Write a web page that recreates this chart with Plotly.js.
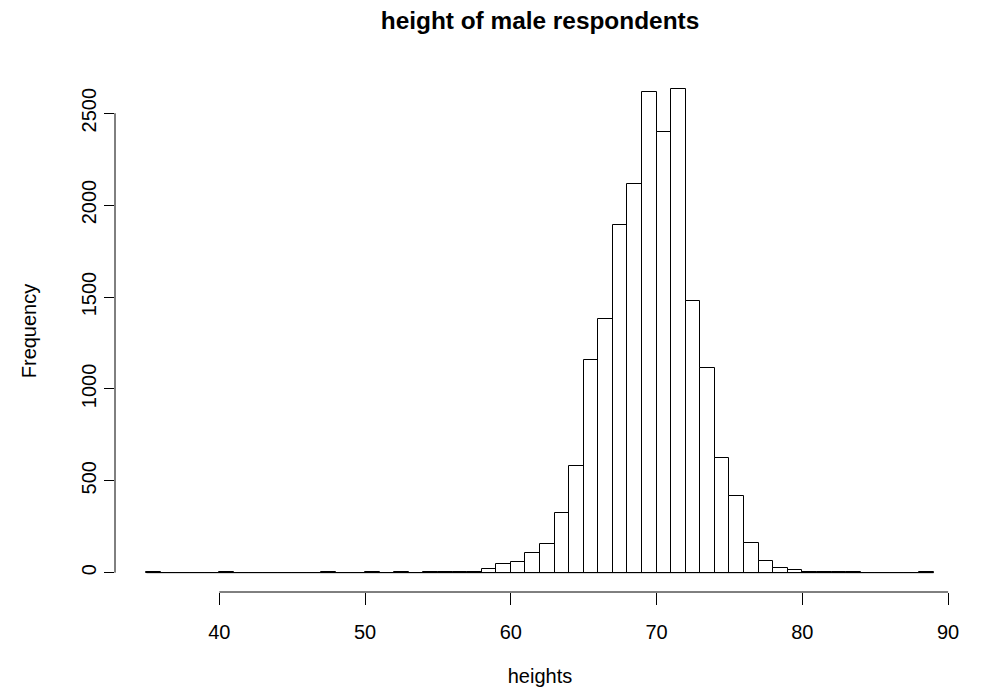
<!DOCTYPE html>
<html>
<head>
<meta charset="utf-8">
<script src="https://cdn.plot.ly/plotly-3.0.1.min.js"></script>
<style>
  html, body { margin: 0; padding: 0; background: #ffffff; }
  #chart { width: 981px; height: 695px; }
</style>
</head>
<body>
<div id="chart"></div>
<script>
// Bin left edges (width 1) and counts of male respondents' heights
const binStarts = [35,36,37,38,39,40,41,42,43,44,45,46,47,48,49,50,51,52,53,54,55,56,57,58,59,60,61,62,63,64,65,66,67,68,69,70,71,72,73,74,75,76,77,78,79,80,81,82,83,84,85,86,87,88];
const counts = [2,0,0,0,0,1,0,0,0,0,0,0,1,0,0,1,0,1,0,1,1,2,3,18,49,56,109,158,322,578,1156,1382,1893,2114,2613,2397,2630,1480,1116,625,418,163,65,24,13,5,3,2,1,0,0,0,0,1];
const binWidth = 1;
const xTicks = [40,50,60,70,80,90];
const yTicks = [0,500,1000,1500,2000,2500];

const centers = binStarts.map(b => b + binWidth / 2);
const firstEdge = binStarts[0];
const lastEdge = binStarts[binStarts.length - 1] + binWidth;

const font = "'Liberation Sans', Arial, Helvetica, sans-serif";

const bars = {
  type: 'bar',
  x: centers,
  y: counts,
  width: binWidth,
  marker: { color: '#ffffff', line: { color: '#000000', width: 1 } },
  hoverinfo: 'x+y',
  showlegend: false
};

// zero-height bins in R are drawn as a line along the baseline
const baseline = {
  type: 'scatter',
  mode: 'lines',
  x: [firstEdge, lastEdge],
  y: [0, 0],
  line: { color: '#000000', width: 1 },
  hoverinfo: 'skip',
  showlegend: false
};

const ymax = Math.max(...counts);
const xr = [firstEdge - 0.04 * (lastEdge - firstEdge), lastEdge + 0.04 * (lastEdge - firstEdge)];
const yr = [-0.04 * ymax, ymax * 1.04];

const layout = {
  width: 981,
  height: 695,
  paper_bgcolor: '#ffffff',
  plot_bgcolor: '#ffffff',
  margin: { l: 115, r: 16, t: 70, b: 103 },
  font: { family: font, size: 20, color: '#000000' },
  title: {
    text: '<b>height of male respondents</b>',
    font: { family: font, size: 24.4, color: '#000000' },
    x: 0.5, xref: 'paper', xanchor: 'center',
    y: 1 - 20 / 695, yref: 'container', yanchor: 'middle'
  },
  bargap: 0,
  xaxis: {
    range: xr,
    tickmode: 'array',
    tickvals: xTicks,
    ticktext: xTicks.map(String),
    ticks: 'outside',
    ticklen: 12,
    tickwidth: 1,
    tickcolor: '#000000',
    showline: false,
    showgrid: false,
    zeroline: false,
    ticklabelstandoff: 10,
    tickfont: { family: font, size: 20, color: '#000000' },
    title: { text: 'heights', font: { family: font, size: 20, color: '#000000' }, standoff: 26 },
    automargin: false,
    fixedrange: true
  },
  yaxis: {
    range: yr,
    tickmode: 'array',
    tickvals: yTicks,
    ticktext: yTicks.map(String),
    tickangle: -90,
    ticks: 'outside',
    ticklen: 10,
    tickwidth: 1,
    tickcolor: '#000000',
    showline: false,
    showgrid: false,
    zeroline: false,
    ticklabelstandoff: 0,
    tickfont: { family: font, size: 20, color: '#000000' },
    title: { text: 'Frequency', font: { family: font, size: 20, color: '#000000' }, standoff: 36 },
    automargin: false,
    fixedrange: true
  },
  shapes: [
    { type: 'line', xref: 'x', yref: 'paper', x0: xTicks[0], x1: xTicks[xTicks.length - 1], y0: 0, y1: 0,
      line: { color: '#000000', width: 1 } },
    { type: 'line', xref: 'paper', yref: 'y', x0: 0, x1: 0, y0: yTicks[0], y1: yTicks[yTicks.length - 1],
      line: { color: '#000000', width: 1 } }
  ]
};

Plotly.newPlot('chart', [bars, baseline], layout, { displayModeBar: false, staticPlot: false });
</script>
</body>
</html>
